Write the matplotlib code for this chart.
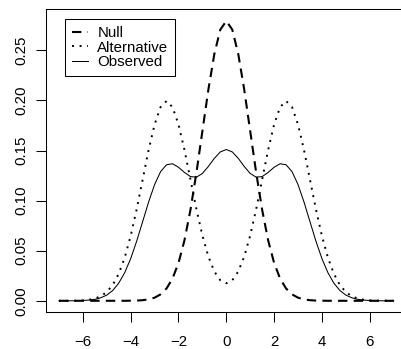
import matplotlib
matplotlib.use("Agg")
import matplotlib.pyplot as plt

plt.rcParams["font.family"] = ["Liberation Sans", "DejaVu Sans"]

# densities, x from -7 to 7 in steps of 0.25
x = [-7.0, -6.75, -6.5, -6.25, -6.0, -5.75, -5.5, -5.25, -5.0, -4.75, -4.5, -4.25,
     -4.0, -3.75, -3.5, -3.25, -3.0, -2.75, -2.5, -2.25, -2.0, -1.75, -1.5, -1.25,
     -1.0, -0.75, -0.5, -0.25, 0.0, 0.25, 0.5, 0.75, 1.0, 1.25, 1.5, 1.75,
     2.0, 2.25, 2.5, 2.75, 3.0, 3.25, 3.5, 3.75, 4.0, 4.25, 4.5, 4.75,
     5.0, 5.25, 5.5, 5.75, 6.0, 6.25, 6.5, 6.75, 7.0]

null = [0.0, 0.0, 0.0, 0.0, 0.0, 0.0, 0.0, 0.0, 0.0, 0.0, 0.0, 0.0,
        0.0001, 0.0002, 0.0006, 0.0014, 0.0031, 0.0064, 0.0123, 0.0222, 0.0378, 0.0604, 0.0907, 0.1279,
        0.1694, 0.2108, 0.2464, 0.2707, 0.2793, 0.2707, 0.2464, 0.2108, 0.1694, 0.1279, 0.0907, 0.0604,
        0.0378, 0.0222, 0.0123, 0.0064, 0.0031, 0.0014, 0.0006, 0.0002, 0.0001, 0.0, 0.0, 0.0,
        0.0, 0.0, 0.0, 0.0, 0.0, 0.0, 0.0, 0.0, 0.0]

alternative = [0.00001, 0.00002, 0.00007, 0.00018, 0.00044, 0.00102, 0.00222, 0.00455, 0.00877, 0.01587, 0.02700, 0.04314,
               0.06476, 0.09133, 0.12099, 0.15057, 0.17604, 0.19334, 0.19947, 0.19334, 0.17604, 0.15060, 0.12105, 0.09150,
               0.06520, 0.04416, 0.02921, 0.02042, 0.01753, 0.02042, 0.02921, 0.04416, 0.06520, 0.09150, 0.12105, 0.15060,
               0.17604, 0.19334, 0.19947, 0.19334, 0.17604, 0.15057, 0.12099, 0.09133, 0.06476, 0.04314, 0.02700, 0.01587,
               0.00877, 0.00455, 0.00222, 0.00102, 0.00044, 0.00018, 0.00007, 0.00002, 0.00001]

observed = [0.0, 0.0, 0.0, 0.0001, 0.0003, 0.0007, 0.0014, 0.0030, 0.0057, 0.0103, 0.0176, 0.0281,
            0.0421, 0.0595, 0.0790, 0.0986, 0.1160, 0.1289, 0.1358, 0.1368, 0.1333, 0.1281, 0.1240, 0.1234,
            0.1271, 0.1341, 0.1422, 0.1486, 0.1510, 0.1486, 0.1422, 0.1341, 0.1271, 0.1234, 0.1240, 0.1281,
            0.1333, 0.1368, 0.1358, 0.1289, 0.1160, 0.0986, 0.0790, 0.0595, 0.0421, 0.0281, 0.0176, 0.0103,
            0.0057, 0.0030, 0.0014, 0.0007, 0.0003, 0.0001, 0.0, 0.0, 0.0]

xticks = [-6, -4, -2, 0, 2, 4, 6]
yticks = [0.00, 0.05, 0.10, 0.15, 0.20, 0.25]

fig = plt.figure(figsize=(4.01, 3.49), dpi=100)
ax = fig.add_axes([0.1137, 0.106, 0.9013, 0.868])

ax.plot(x, null, color="black", linewidth=1.5, linestyle=(0, (4.5, 3)), label="Null")
ax.plot(x, alternative, color="black", linewidth=1.4, linestyle=(0, (1, 2.9)),
        dash_capstyle="butt", label="Alternative")
ax.plot(x, observed, color="black", linewidth=0.75, label="Observed")

ax.set_xlim(-7.56, 7.56)
ax.set_ylim(-0.0112, 0.2912)
ax.set_xticks(xticks)
ax.set_yticks(yticks)
ax.set_yticklabels(["%.2f" % v for v in yticks], rotation=90, va="center")
ax.tick_params(direction="out", length=7.2, width=0.75, labelsize=10.8, color="black")
ax.tick_params(axis="x", pad=9.5)
ax.tick_params(axis="y", pad=5)
for s in ax.spines.values():
    s.set_linewidth(0.75)
    s.set_color("black")

leg = ax.legend(loc="upper left", bbox_to_anchor=(0.0537, 0.967), borderaxespad=0,
                fancybox=False, framealpha=1, edgecolor="black", fontsize=10.8,
                handlelength=1.1, handletextpad=0.6, borderpad=0.45, labelspacing=0.05)
leg.get_frame().set_linewidth(0.75)

plt.savefig("out.png", dpi=100)
